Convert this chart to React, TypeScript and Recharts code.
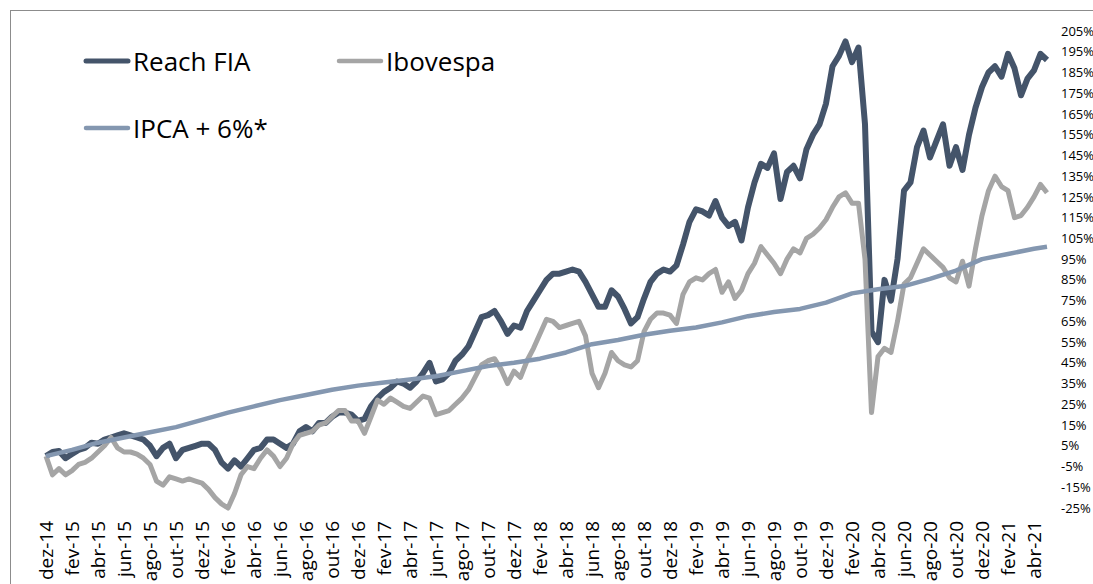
import React from 'react';
import { LineChart, Line, XAxis, YAxis } from 'recharts';

// Month index 0 = dez-14, one value every half month
const xLabels = [
  'dez-14', 'fev-15', 'abr-15', 'jun-15', 'ago-15', 'out-15',
  'dez-15', 'fev-16', 'abr-16', 'jun-16', 'ago-16', 'out-16',
  'dez-16', 'fev-17', 'abr-17', 'jun-17', 'ago-17', 'out-17',
  'dez-17', 'fev-18', 'abr-18', 'jun-18', 'ago-18', 'out-18',
  'dez-18', 'fev-19', 'abr-19', 'jun-19', 'ago-19', 'out-19',
  'dez-19', 'fev-20', 'abr-20', 'jun-20', 'ago-20', 'out-20',
  'dez-20', 'fev-21', 'abr-21',
];

const reachValues = [
  0, 2, 2.5, -1, 1, 3, 4, 6.5, 6, 8,
  9, 10, 11, 10, 9, 8, 5, 0, 4, 6,
  -1, 3, 4, 5, 6, 6, 3, -3, -6, -2,
  -5, -1, 3, 4, 8, 8, 6, 4, 6, 12,
  14, 12, 16, 16, 19, 21, 21, 20, 17, 18,
  24, 28, 31, 33, 36, 35, 33, 36, 40, 45,
  36, 37, 40, 46, 49, 53, 60, 67, 68, 70,
  65, 59, 63, 62, 70, 75, 80, 85, 88, 88,
  89, 90, 89, 84, 78, 72, 72, 80, 77, 71,
  64, 67, 76, 84, 88, 90, 89, 92, 102, 113,
  119, 118, 116, 123, 115, 111, 113, 104, 120, 132,
  141, 139, 146, 124, 137, 140, 134, 148, 155, 160,
  170, 188, 193, 200, 190, 197, 160, 60, 55, 85,
  75, 95, 128, 132, 149, 157, 144, 152, 160, 140,
  149, 138, 155, 168, 178, 185, 188, 183, 194, 187,
  174, 182, 186, 194, 191,
];

const ibovValues = [
  0, -9, -6, -9, -7, -4, -3, -1, 2, 5,
  9, 4, 2, 2, 1, -1, -4, -12, -14, -10,
  -11, -12, -11, -12, -13, -16, -20, -23, -25, -18,
  -9, -5, -6, -1, 3, 0, -5, -1, 6, 10,
  11, 12, 15, 16, 19, 22, 22, 17, 17, 11,
  19, 27, 25, 28, 26, 24, 23, 26, 29, 28,
  20, 21, 22, 25, 28, 32, 38, 44, 46, 47,
  42, 35, 41, 38, 46, 52, 59, 66, 65, 62,
  63, 64, 65, 58, 40, 33, 40, 50, 46, 44,
  43, 46, 60, 66, 69, 69, 68, 64, 78, 84,
  86, 85, 88, 90, 79, 84, 76, 80, 88, 93,
  101, 97, 93, 88, 95, 100, 98, 105, 107, 110,
  114, 120, 125, 127, 122, 122, 95, 21, 48, 52,
  50, 65, 83, 86, 93, 100, 97, 94, 91, 86,
  84, 94, 82, 100, 116, 128, 135, 130, 128, 115,
  116, 120, 125, 131, 127,
];

const ipcaMonths = [
  0, 2, 4, 6, 8, 10, 12, 14, 16, 18, 20, 22, 24, 26, 28, 30, 32, 34, 36, 38,
  40, 42, 44, 46, 48, 50, 52, 54, 56, 58, 60, 62, 64, 66, 68, 70, 72, 74, 76, 77,
];
const ipcaValues = [
  0, 3, 6.5, 9, 11.5, 14, 17.5, 21, 24, 27, 29.5, 32, 34, 35.5, 37, 38.5, 41, 43.5, 45, 47,
  50, 54, 56, 58.5, 60.5, 62, 64.5, 67.5, 69.5, 71, 74, 78.5, 80.5, 82, 85.5, 89.5, 95, 97.5, 100, 101,
];

const yTicks = [-25, -15, -5, 5, 15, 25, 35, 45, 55, 65, 75, 85, 95, 105, 115, 125, 135, 145, 155, 165, 175, 185, 195, 205];

const STEP = 0.5;
const data = reachValues.map((v, i) => ({ m: i * STEP, reach: v, ibov: ibovValues[i] }));
const ipcaData = ipcaMonths.map((m, i) => ({ m, ipca: ipcaValues[i] }));
const xTicks = xLabels.map((_, i) => i * 2);

const FONT = '"Open Sans", "Noto Sans", sans-serif';
const C_REACH = '#44546A';
const C_IBOV = '#A5A5A5';
const C_IPCA = '#8497B0';

function XTick(props: any) {
  const { x, y, payload } = props;
  const label = xLabels[Math.round(payload.value / 2)];
  return (
    <text
      x={x}
      y={y}
      transform={`rotate(-90 ${x} ${y})`}
      textAnchor="end"
      dominantBaseline="central"
      fontFamily={FONT}
      fontSize={19}
      fill="#000"
    >
      {label}
    </text>
  );
}

function LegendOverlay() {
  const items = [
    { name: 'Reach FIA', color: C_REACH, x: 86, y: 61, w: 5 },
    { name: 'Ibovespa', color: C_IBOV, x: 339, y: 61, w: 4.5 },
    { name: 'IPCA + 6%*', color: C_IPCA, x: 86, y: 128, w: 4.5 },
  ];
  return (
    <svg width={1093} height={584} style={{ position: 'absolute', left: 0, top: 0, pointerEvents: 'none' }}>
      {items.map((it) => (
        <g key={it.name}>
          <line x1={it.x} y1={it.y} x2={it.x + 42} y2={it.y} stroke={it.color} strokeWidth={it.w} strokeLinecap="round" />
          <text x={it.x + 47} y={it.y} dominantBaseline="central" fontFamily={FONT} fontSize={26} fill="#000">
            {it.name}
          </text>
        </g>
      ))}
    </svg>
  );
}

export default function App() {
  return (
    <div style={{ position: 'fixed', left: 0, top: 0, width: 1093, height: 584, background: '#fff', overflow: 'hidden' }}>
      <div
        style={{
          position: 'absolute',
          left: 10,
          top: 10,
          width: 1083,
          height: 574,
          borderLeft: '1px solid #8c8c8c',
          borderTop: '1px solid #8c8c8c',
          boxSizing: 'border-box',
        }}
      />
      <div style={{ position: 'absolute', left: 0, top: 0 }}>
        <LineChart width={1093} height={584} data={data} margin={{ top: 31, right: 0, bottom: 0, left: 46 }}>
          <XAxis
            dataKey="m"
            type="number"
            domain={[0, 77]}
            ticks={xTicks}
            interval={0}
            axisLine={false}
            tickLine={false}
            tickSize={0}
            tickMargin={13}
            height={76}
            tick={<XTick />}
          />
          <YAxis
            orientation="right"
            type="number"
            domain={[-25, 205]}
            ticks={yTicks}
            interval={0}
            width={46}
            axisLine={false}
            tickLine={false}
            tickSize={0}
            tickMargin={14}
            tickFormatter={(v: number) => `${v}%`}
            tick={{ fontFamily: FONT, fontSize: 13, fill: '#000' }}
          />
          <Line dataKey="reach" stroke={C_REACH} strokeWidth={6} dot={false} isAnimationActive={false} strokeLinejoin="round" />
          <Line dataKey="ibov" stroke={C_IBOV} strokeWidth={5} dot={false} isAnimationActive={false} strokeLinejoin="round" />
          <Line data={ipcaData} dataKey="ipca" stroke={C_IPCA} strokeWidth={4.5} dot={false} isAnimationActive={false} strokeLinejoin="round" />
        </LineChart>
      </div>
      <LegendOverlay />
    </div>
  );
}
